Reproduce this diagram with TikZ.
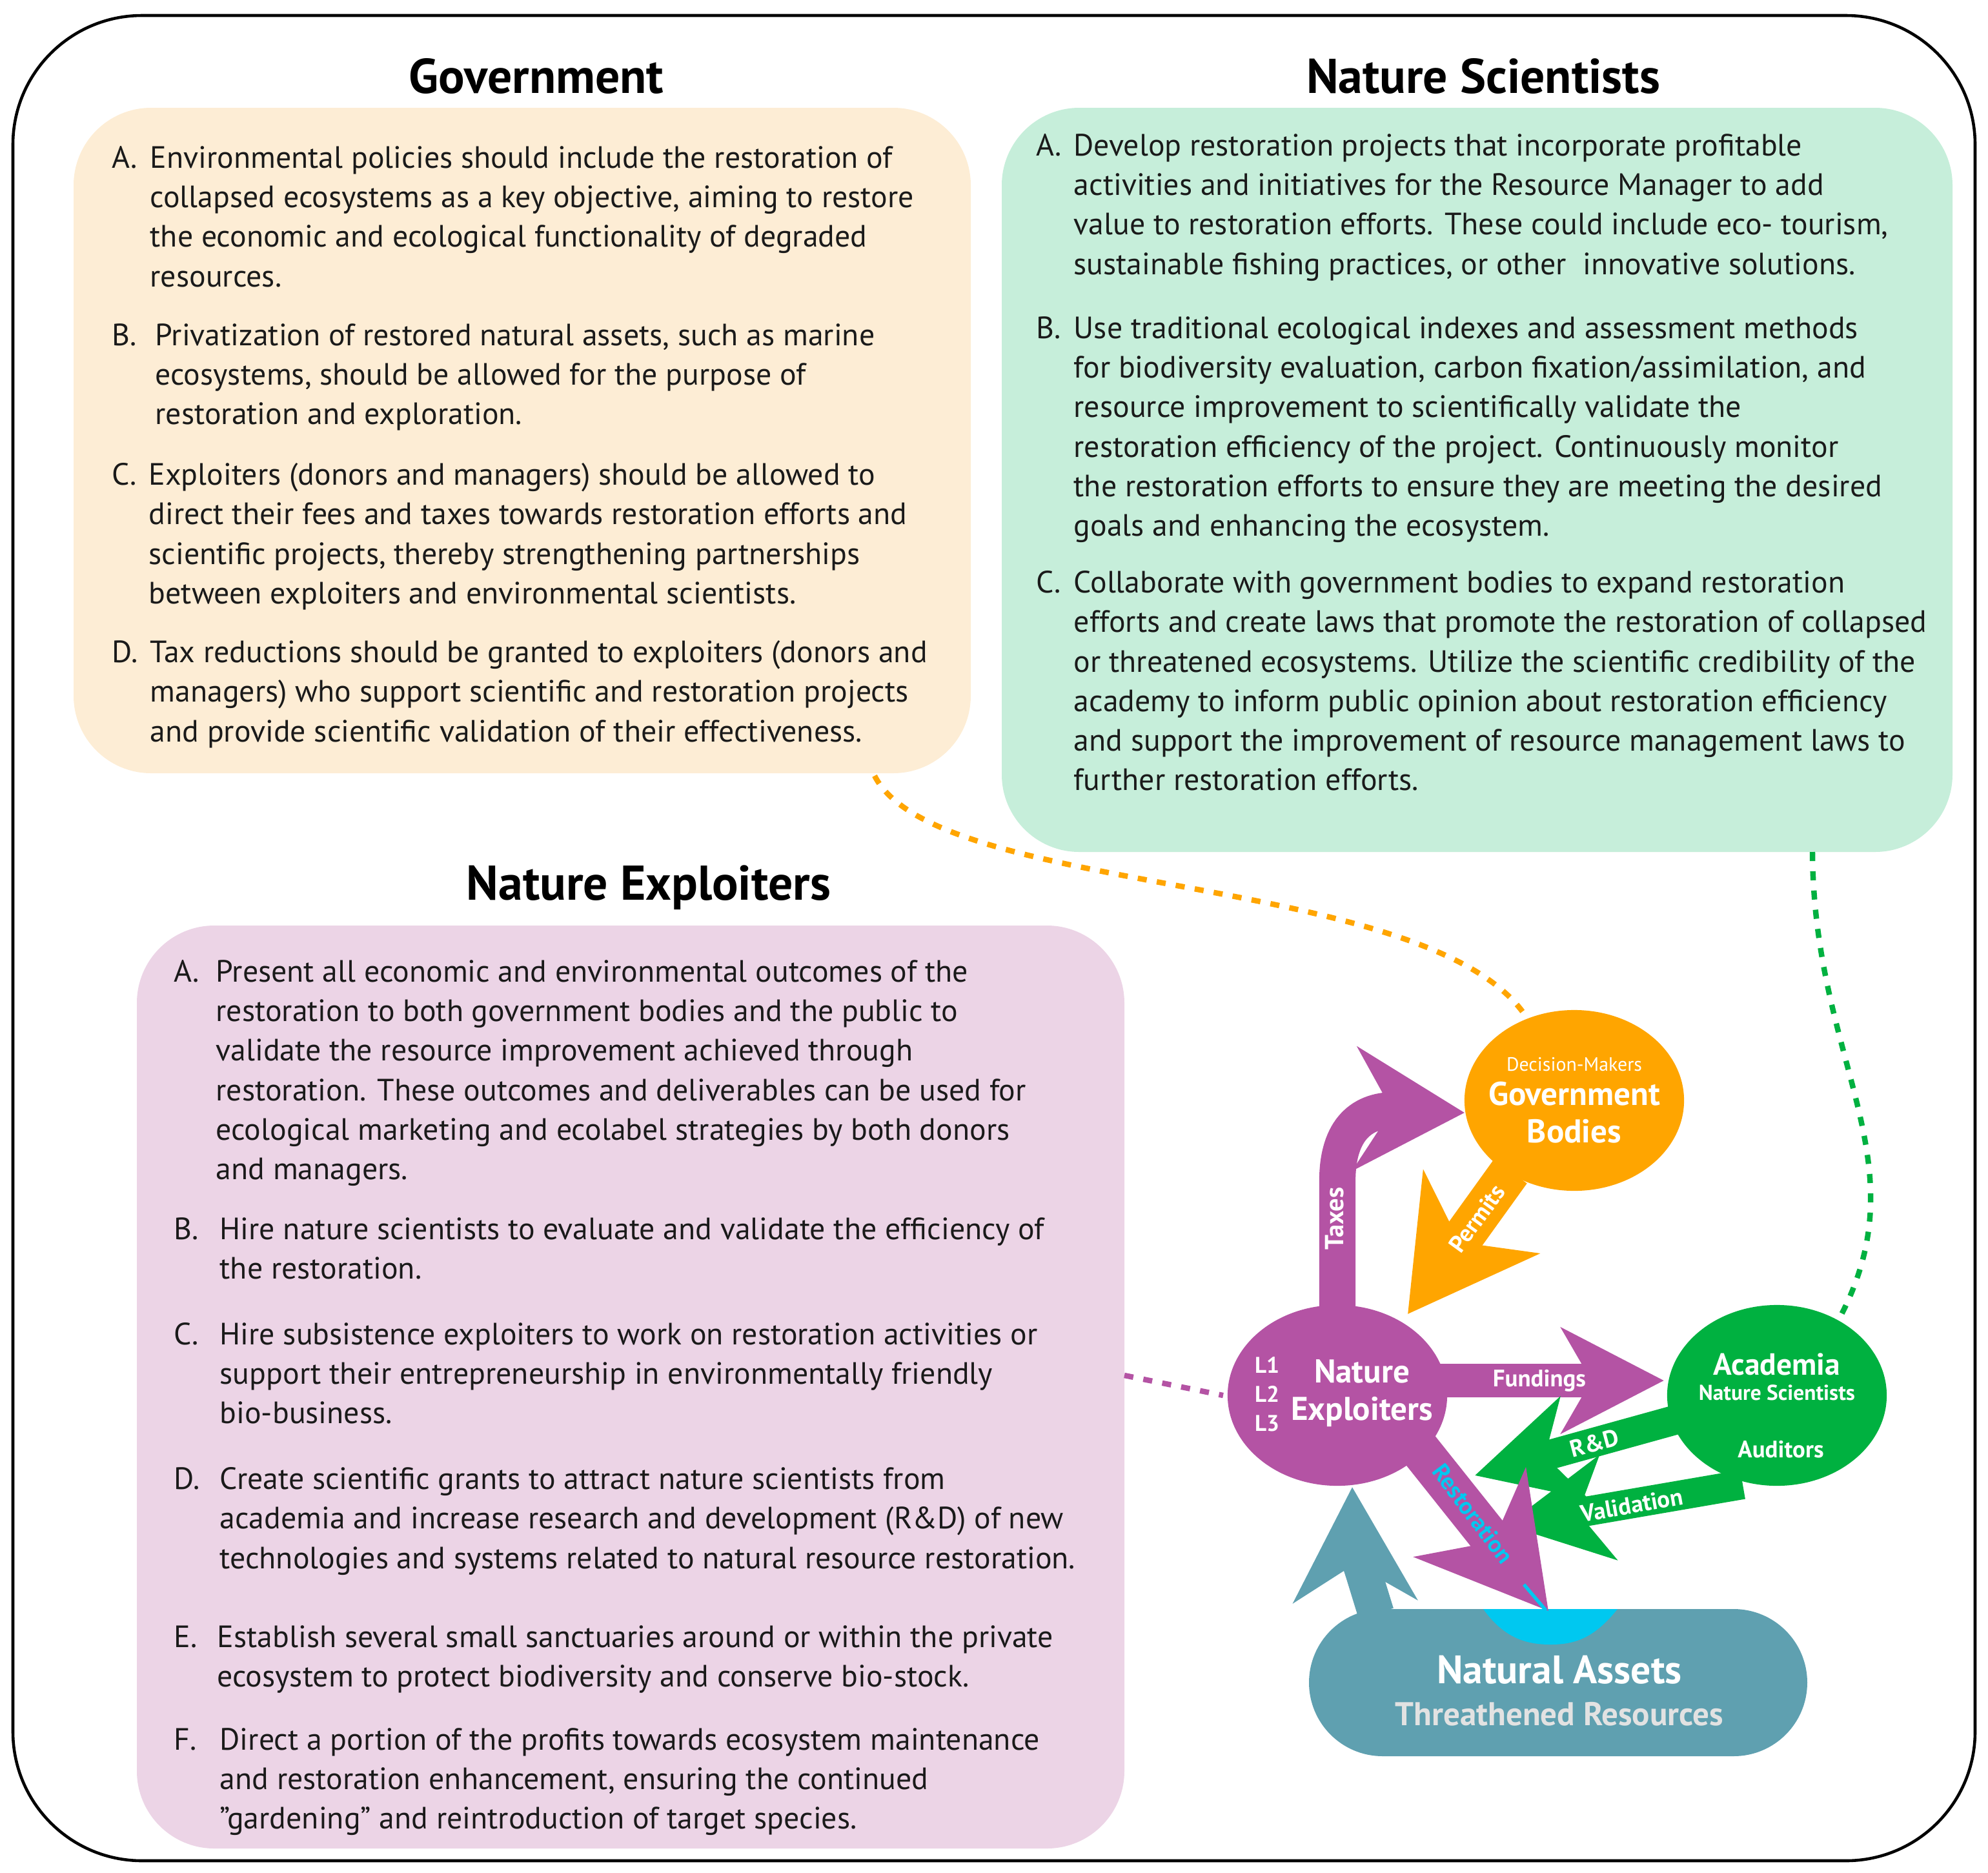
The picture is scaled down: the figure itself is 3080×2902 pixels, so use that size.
\documentclass[tikz,border=0pt]{standalone}
\usepackage{fontspec}
\setmainfont{PT Sans}
\usetikzlibrary{arrows.meta,shapes.geometric}
\definecolor{gov}{HTML}{FDEDD5}
\definecolor{sci}{HTML}{C6EEDA}
\definecolor{expl}{HTML}{ECD4E6}
\definecolor{pur}{HTML}{B453A4}
\definecolor{org}{HTML}{FFA500}
\definecolor{grn}{HTML}{00B140}
\definecolor{tea}{HTML}{5FA0B0}
\definecolor{cya}{HTML}{00C8F0}
\definecolor{ink}{HTML}{1A1A1A}
\definecolor{lgr}{HTML}{E2E2E2}
\tikzset{
 x=0.01cm,y=-0.01cm,
 title/.style={font=\fontsize{21.5}{24}\selectfont\bfseries,text=black},
 lbl/.style={anchor=north west,inner sep=0,font=\fontsize{13.6}{17.4}\selectfont,text=ink},
 txt/.style={anchor=north west,inner sep=0,align=left,font=\fontsize{13.6}{17.4}\selectfont,text=ink},
 wl/.style={text=white,font=\bfseries\fontsize{10.5}{12}\selectfont,inner sep=0},
 dots/.style={line width=2.4pt,dash pattern=on 4pt off 4.5pt},
 ell/.style={ellipse,fill=#1,minimum width=3.4cm,minimum height=2.8cm,inner sep=0},
}
\begin{document}
\begin{tikzpicture}
\useasboundingbox (0,0) rectangle (3080,2902);
\draw[line width=1.3pt,rounded corners=2cm] (20,24) rectangle (3060,2883);
% boxes
\fill[gov,rounded corners=1.2cm] (114,167) rectangle (1504,1198);
\fill[sci,rounded corners=1.2cm] (1552,167) rectangle (3025,1320);
\fill[expl,rounded corners=1.2cm] (212,1434) rectangle (1742,2864);
\node[title] (tg) at (831,118) {Government};
\node[title] (ts) at (2298,118) {Nature Scientists};
\node[title] (te) at (1005,1375) {Nature Exploiters};
% Government items
\node[lbl] at (173,226) {A.};
\node[txt] at (232,226) {Environmental policies should include the restoration of\\collapsed ecosystems as a key objective, aiming to restore\\the economic and ecological functionality of degraded\\resources.};
\node[lbl] at (173,501) {B.};
\node[txt] at (240,501) {Privatization of restored natural assets, such as marine\\ecosystems, should be allowed for the purpose of\\restoration and exploration.};
\node[lbl] at (173,717) {C.};
\node[txt] at (230,717) {Exploiters (donors and managers) should be allowed to\\direct their fees and taxes towards restoration efforts and\\scientific projects, thereby strengthening partnerships\\between exploiters and environmental scientists.};
\node[lbl] at (173,992) {D.};
\node[txt] at (232,992) {Tax reductions should be granted to exploiters (donors and\\managers) who support scientific and restoration projects\\and provide scientific validation of their effectiveness.};
% Scientists items
\node[lbl] at (1605,207) {A.};
\node[txt] at (1663,207) {Develop restoration projects that incorporate profitable\\activities and initiatives for the Resource Manager to add\\value to restoration efforts. These could include eco- tourism,\\sustainable fishing practices, or other\ \ innovative solutions.};
\node[lbl] at (1605,490) {B.};
\node[txt] at (1663,490) {Use traditional ecological indexes and assessment methods\\for biodiversity evaluation, carbon fixation/assimilation, and\\resource improvement to scientifically validate the\\restoration efficiency of the project. Continuously monitor\\the restoration efforts to ensure they are meeting the desired\\goals and enhancing the ecosystem.};
\node[lbl] at (1605,884) {C.};
\node[txt] at (1663,884) {Collaborate with government bodies to expand restoration\\efforts and create laws that promote the restoration of collapsed\\or threatened ecosystems. Utilize the scientific credibility of the\\academy to inform public opinion about restoration efficiency\\and support the improvement of resource management laws to\\further restoration efforts.};
% Exploiters items
\node[lbl] at (269,1487) {A.};
\node[txt] at (334,1487) {Present all economic and environmental outcomes of the\\restoration to both government bodies and the public to\\validate the resource improvement achieved through\\restoration. These outcomes and deliverables can be used for\\ecological marketing and ecolabel strategies by both donors\\and managers.};
\node[lbl] at (269,1886) {B.};
\node[txt] at (340,1886) {Hire nature scientists to evaluate and validate the efficiency of\\the restoration.};
\node[lbl] at (269,2049) {C.};
\node[txt] at (340,2049) {Hire subsistence exploiters to work on restoration activities or\\support their entrepreneurship in environmentally friendly\\bio-business.};
\node[lbl] at (269,2273) {D.};
\node[txt] at (340,2273) {Create scientific grants to attract nature scientists from\\academia and increase research and development (R\&D) of new\\technologies and systems related to natural resource restoration.};
\node[lbl] at (269,2518) {E.};
\node[txt] at (336,2518) {Establish several small sanctuaries around or within the private\\ecosystem to protect biodiversity and conserve bio-stock.};
\node[lbl] at (269,2677) {F.};
\node[txt] at (340,2677) {Direct a portion of the profits towards ecosystem maintenance\\and restoration enhancement, ensuring the continued\\"gardening" and reintroduction of target species.};
% anchors for dotted links
\coordinate (gb) at (1355,1202);
\coordinate (sb) at (2808,1320);
\coordinate (eb) at (1742,2131);
% diagram nodes
\node[ell=org] (G) at (2439,1705) {};
\node[ell=pur] (E) at (2072,2162) {};
\node[ell=grn] (A) at (2753,2162) {};
\fill[tea,rounded corners=1.14cm] (2028,2493) rectangle (2800,2721);
\fill[cya] (2298,2493) -- (2506,2493) .. controls (2470,2538) and (2440,2548) .. (2402,2548) .. controls (2365,2548) and (2330,2538) .. (2298,2493) -- cycle;
% dotted links
\draw[dots,org] (gb) .. controls (1450,1390) and (2200,1350) .. (2360,1569);
\draw[dots,grn] (sb) .. controls (2810,1650) and (2980,1800) .. (2848,2046);
\draw[dots,pur] (eb) -- (1895,2162);
% arrows
\draw[pur,line width=16pt,-{Stealth[length=48pt,width=54pt,inset=16pt]}] (2072,2040) -- (2072,1830) .. controls (2072,1750) and (2110,1718) .. (2269,1724);
\draw[org,line width=18pt,-{Stealth[length=55pt,width=62pt,inset=16pt]}] (2340,1815) -- (2181,2036);
\draw[pur,line width=15pt,-{Stealth[length=45pt,width=46pt,inset=13pt]}] (2225,2139) -- (2578,2139);
\draw[grn,line width=13pt,-{Stealth[length=45pt,width=46pt,inset=13pt]}] (2610,2196) -- (2285,2286);
\draw[grn,line width=13pt,-{Stealth[length=45pt,width=46pt,inset=13pt]}] (2700,2300) -- (2334,2363);
\draw[pur,line width=18pt,-{Stealth[length=55pt,width=62pt,inset=16pt]}] (2195,2240) -- (2399,2496);
\draw[tea,line width=16pt,-{Stealth[length=50pt,width=54pt,inset=16pt]}] (2132,2500) .. controls (2110,2430) and (2097,2380) .. (2095,2304);
\draw[cya,line width=1.5pt] (2361,2455) -- (2395,2495);
% arrow labels
\node[wl,rotate=90,font=\bfseries\fontsize{11.5}{12}\selectfont] at (2068,1888) {Taxes};
\node[wl,rotate=54] at (2288,1888) {Permits};
\node[wl] at (2385,2139) {Fundings};
\node[wl,rotate=15] at (2470,2236) {R\&D};
\node[wl,rotate=10] at (2528,2332) {Validation};
\node[wl,rotate=-53,text=cya] at (2282,2345) {Restoration};
% node labels
\node[text=white,font=\fontsize{8.5}{9}\selectfont,inner sep=0] at (2439,1649) {Decision-Makers};
\node[text=white,align=center,inner sep=0,font=\bfseries\fontsize{14.5}{16.5}\selectfont] at (2439,1724) {Government\\Bodies};
\node[text=white,align=center,inner sep=0,font=\bfseries\fontsize{14.5}{16.5}\selectfont] at (2110,2159) {Nature\\Exploiters};
\node[text=white,align=left,inner sep=0,font=\bfseries\fontsize{10}{12.8}\selectfont] at (1963,2160) {L1\\L2\\L3};
\node[text=white,inner sep=0,font=\bfseries\fontsize{13.5}{15}\selectfont] at (2753,2114) {Academia};
\node[text=white,inner sep=0,font=\bfseries\fontsize{9.5}{11}\selectfont] at (2753,2158) {Nature Scientists};
\node[wl] at (2759,2246) {Auditors};
\node[text=white,inner sep=0,font=\bfseries\fontsize{17.5}{20}\selectfont] at (2416,2587) {Natural Assets};
\node[text=lgr,inner sep=0,font=\bfseries\fontsize{14.5}{17}\selectfont] at (2416,2656) {Threathened Resources};
\end{tikzpicture}
\end{document}
